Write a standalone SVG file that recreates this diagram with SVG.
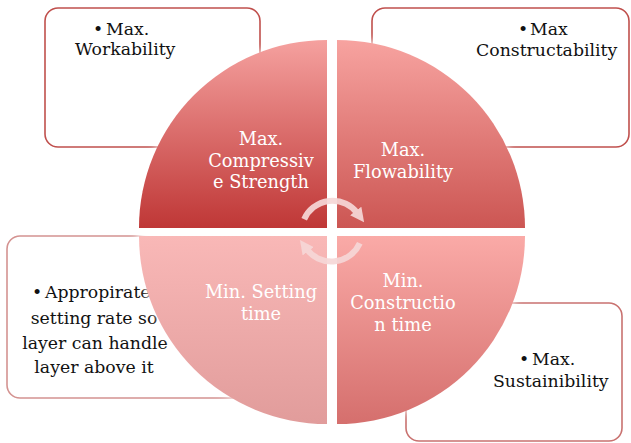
<svg xmlns="http://www.w3.org/2000/svg" width="631" height="443" viewBox="0 0 631 443">
<style>
.box{fill:#fff;stroke-width:1.6}
.bt{font-family:"DejaVu Serif","Liberation Serif",serif;font-size:17.3px;fill:#111}
.ct{font-family:"DejaVu Serif","Liberation Serif",serif;font-size:17.8px;fill:#fff;text-anchor:middle}
.arc{fill:none;stroke:#f6d7d7;stroke-width:6;opacity:0.92}
</style>
<defs>
<linearGradient id="gTL" x1="0" y1="0" x2="0" y2="1"><stop offset="0" stop-color="#f5a19f"/><stop offset="1" stop-color="#bf3736"/></linearGradient>
<linearGradient id="gTR" x1="0" y1="0" x2="0" y2="1"><stop offset="0" stop-color="#f7a3a0"/><stop offset="1" stop-color="#cc5653"/></linearGradient>
<linearGradient id="gBL" x1="0" y1="0" x2="0" y2="1"><stop offset="0" stop-color="#f9b8b7"/><stop offset="1" stop-color="#e19c9b"/></linearGradient>
<linearGradient id="gBR" x1="0" y1="0" x2="0" y2="1"><stop offset="0" stop-color="#faaaa7"/><stop offset="1" stop-color="#d56f6d"/></linearGradient>
<filter id="glow" x="-20%" y="-20%" width="140%" height="140%"><feGaussianBlur stdDeviation="4"/></filter>
<marker id="ah" viewBox="0 0 10 10" refX="2" refY="5" markerWidth="14" markerHeight="14" markerUnits="userSpaceOnUse" orient="auto"><polygon points="0,0 10,5 0,10" fill="#f6d7d7"/></marker>
</defs>

<g id="box-workability">
<rect class="box" x="45" y="8" width="215" height="139" rx="13" stroke="#c0504d"/>
<text class="bt" x="93" y="35">•</text><text class="bt" x="106" y="35">Max.</text>
<text class="bt" x="75" y="55">Workability</text>
</g>
<g id="box-constructability">
<rect class="box" x="372" y="8" width="257" height="139" rx="13" stroke="#c0504d"/>
<text class="bt" x="518" y="35">•</text><text class="bt" x="530" y="35">Max</text>
<text class="bt" x="476" y="56">Constructability</text>
</g>
<g id="box-setting">
<rect class="box" x="7" y="236" width="320" height="162" rx="13" stroke="#d49391"/>
<text class="bt" x="32" y="298">•</text><text class="bt" x="45" y="298">Appropirate</text>
<text class="bt" x="94" y="324" text-anchor="middle">setting rate so</text>
<text class="bt" x="95" y="349" text-anchor="middle">layer can handle</text>
<text class="bt" x="94" y="373" text-anchor="middle">layer above it</text>
</g>
<g id="box-sustainability">
<rect class="box" x="406" y="303" width="216" height="138" rx="13" stroke="#c97270"/>
<text class="bt" x="519" y="365">•</text><text class="bt" x="532" y="365">Max.</text>
<text class="bt" x="493" y="387">Sustainibility</text>
</g>

<circle cx="332" cy="232" r="194" fill="#fff" filter="url(#glow)"/>

<g id="q-compressive">
<path d="M327,228 L139,228 A188,188 0 0 1 327,40 Z" fill="url(#gTL)"/>
<text class="ct" x="261" y="145">Max.</text>
<text class="ct" x="261" y="167">Compressiv</text>
<text class="ct" x="261" y="188">e Strength</text>
</g>
<g id="q-flowability">
<path d="M337,228 L337,40 A188,188 0 0 1 525,228 Z" fill="url(#gTR)"/>
<text class="ct" x="403" y="156">Max.</text>
<text class="ct" x="403" y="178">Flowability</text>
</g>
<g id="q-setting">
<path d="M327,236 L327,424 A188,188 0 0 1 139,236 Z" fill="url(#gBL)"/>
<text class="ct" x="261" y="298">Min. Setting</text>
<text class="ct" x="261" y="320">time</text>
</g>
<g id="q-construction">
<path d="M337,236 L525,236 A188,188 0 0 1 337,424 Z" fill="url(#gBR)"/>
<text class="ct" x="403" y="287">Min.</text>
<text class="ct" x="403" y="309">Constructio</text>
<text class="ct" x="403" y="331">n time</text>
</g>

<g id="connectors">
<path class="arc" d="M304.2,219.2 A31,31 0 0 1 357.4,213.2" marker-end="url(#ah)"/>
<path class="arc" d="M359.8,243.2 A31,31 0 0 1 306.6,249.0" marker-end="url(#ah)"/>
</g>
</svg>
